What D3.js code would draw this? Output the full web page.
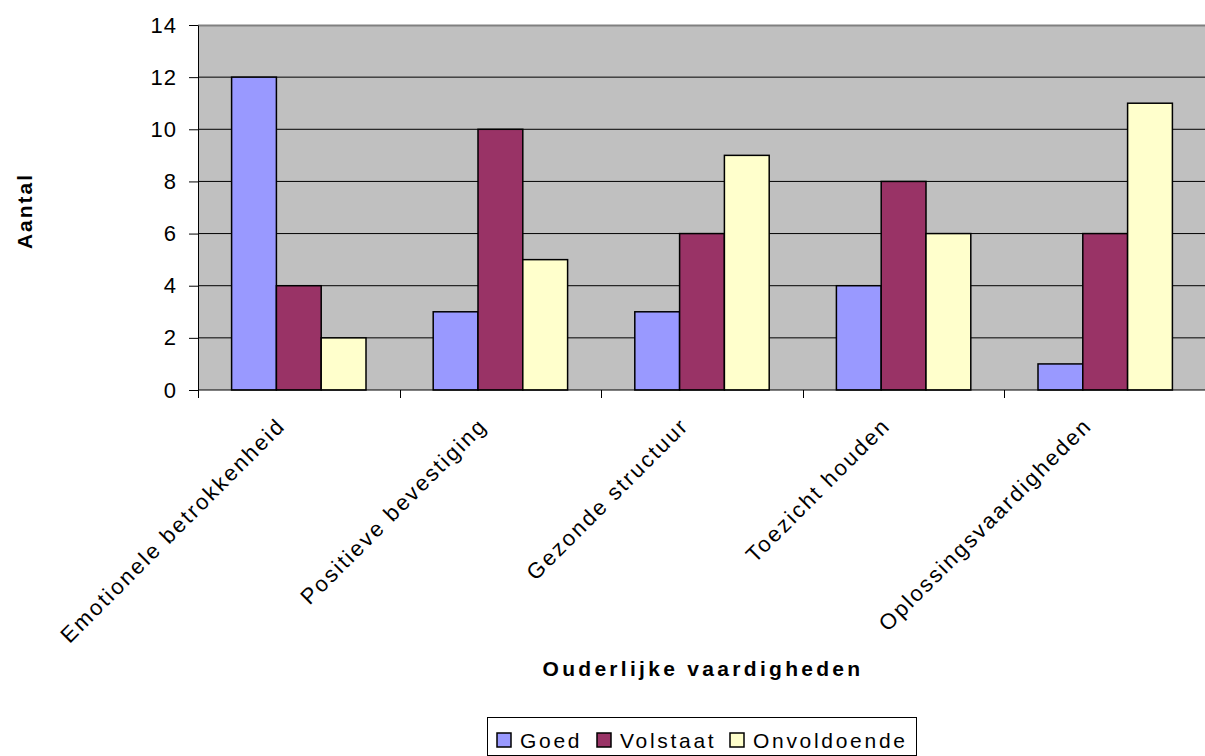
<!DOCTYPE html>
<html lang="nl">
  <head>
    <meta charset="UTF-8" />
    <title>Ouderlijke vaardigheden</title>
    <style>
      body { margin: 0; background: #fff; }
      svg { display: block; font-family: "Liberation Sans", Arial, sans-serif; }
    </style>
  </head>
  <body>
    <script src="https://cdn.jsdelivr.net/npm/d3@7/dist/d3.min.js"></script>
    <script>
      // chart data
      var categories = ["Emotionele betrokkenheid", "Positieve bevestiging", "Gezonde structuur", "Toezicht houden", "Oplossingsvaardigheden"];
      var seriesNames = ["Goed", "Volstaat", "Onvoldoende"];
      var goed = [12, 3, 3, 4, 1];
      var volstaat = [4, 10, 6, 8, 6];
      var onvoldoende = [2, 5, 9, 6, 11];
      var yTicks = [0, 2, 4, 6, 8, 10, 12, 14];

      var colors = ["#9999FF", "#993366", "#FFFFCC"];
      var values = [goed, volstaat, onvoldoende];

      var w = 1205, h = 756;
      var margin = { top: 25, left: 198 };
      var plotW = 1008, plotH = 365;

      var svg = d3.select("body").append("svg")
                  .attr("width", w)
                  .attr("height", h);

      var g = svg.append("g")
                 .attr("transform", "translate(" + margin.left + "," + margin.top + ")");

      var x0 = d3.scaleBand().domain(categories).range([0, plotW]).padding(0);
      var bw = x0.bandwidth();
      var gap = bw / 4.5 * 0.75;
      var x1 = d3.scaleBand().domain(seriesNames).range([gap, bw - gap]).padding(0);
      var y = d3.scaleLinear().domain([0, 14]).range([plotH, 0]);

      // plot area
      g.append("rect")
       .attr("x", 0).attr("y", 0)
       .attr("width", plotW).attr("height", plotH)
       .attr("fill", "#C0C0C0");

      // gridlines
      g.selectAll(".grid")
       .data(yTicks.filter(function(d) { return d > 0 && d < 14; }))
       .enter().append("line")
       .attr("x1", 0).attr("x2", plotW)
       .attr("y1", function(d) { return y(d); })
       .attr("y2", function(d) { return y(d); })
       .attr("stroke", "#000").attr("stroke-width", 1);

      g.append("line")
       .attr("x1", 0).attr("x2", plotW)
       .attr("y1", y(14) + 0.5).attr("y2", y(14) + 0.5)
       .attr("stroke", "#808080").attr("stroke-width", 2);

      // bars
      var rows = categories.map(function(c, i) {
        return seriesNames.map(function(s, j) {
          return { cat: c, name: s, value: values[j][i], color: colors[j] };
        });
      });

      g.selectAll(".group")
       .data(rows)
       .enter().append("g")
       .attr("transform", function(d) { return "translate(" + x0(d[0].cat) + ",0)"; })
       .selectAll("rect")
       .data(function(d) { return d; })
       .enter().append("rect")
       .attr("x", function(d) { return x1(d.name); })
       .attr("y", function(d) { return y(d.value); })
       .attr("width", x1.bandwidth())
       .attr("height", function(d) { return plotH - y(d.value); })
       .attr("fill", function(d) { return d.color; })
       .attr("stroke", "#000")
       .attr("stroke-width", 1.5);

      // y axis
      var yAxis = d3.axisLeft(y).tickValues(yTicks).tickSize(9).tickPadding(12).tickSizeOuter(0);
      var ya = g.append("g").call(yAxis);
      ya.select(".domain").attr("stroke", "#000").attr("stroke-width", 1);
      ya.selectAll("text")
        .attr("font-size", "22px")
        .attr("letter-spacing", "1px")
        .attr("fill", "#000");

      // x axis line + ticks at band edges
      g.append("line")
       .attr("x1", 0).attr("x2", plotW)
       .attr("y1", plotH).attr("y2", plotH)
       .attr("stroke", "#000");

      g.selectAll(".xtick")
       .data(d3.range(categories.length + 1))
       .enter().append("line")
       .attr("x1", function(i) { return Math.round(i * bw) + 0.5; })
       .attr("x2", function(i) { return Math.round(i * bw) + 0.5; })
       .attr("y1", plotH).attr("y2", plotH + 8)
       .attr("stroke", "#000");

      g.selectAll(".xlabel")
       .data(categories)
       .enter().append("text")
       .attr("text-anchor", "end")
       .attr("font-size", "22px")
       .attr("letter-spacing", "2.2px")
       .attr("transform", function(d) {
         return "translate(" + (x0(d) + bw / 2 - 12) + "," + (plotH + 37) + ") rotate(-45)";
       })
       .text(function(d) { return d; });

      // axis titles
      svg.append("text")
         .attr("x", 703).attr("y", 676)
         .attr("text-anchor", "middle")
         .attr("font-size", "21px")
         .attr("font-weight", "bold")
         .attr("letter-spacing", "3.3px")
         .text("Ouderlijke vaardigheden");

      svg.append("text")
         .attr("transform", "translate(32,211) rotate(-90)")
         .attr("text-anchor", "middle")
         .attr("font-size", "21px")
         .attr("font-weight", "bold")
         .attr("letter-spacing", "2px")
         .text("Aantal");

      // legend
      var legend = svg.append("g").attr("transform", "translate(487,717)");
      legend.append("rect")
            .attr("x", 0.5).attr("y", 0.5)
            .attr("width", 429).attr("height", 38)
            .attr("fill", "#fff").attr("stroke", "#000");

      var legX = [10, 110, 243];
      var items = legend.selectAll(".item")
                        .data(seriesNames)
                        .enter().append("g")
                        .attr("transform", function(d, i) { return "translate(" + legX[i] + ",0)"; });
      items.append("rect")
           .attr("x", 0).attr("y", 16)
           .attr("width", 14).attr("height", 14)
           .attr("fill", function(d, i) { return colors[i]; })
           .attr("stroke", "#000").attr("stroke-width", 1.5);
      items.append("text")
           .attr("x", 23).attr("y", 31)
           .attr("font-size", "21px")
           .attr("letter-spacing", "2.7px")
           .text(function(d) { return d; });
    </script>
  </body>
</html>
